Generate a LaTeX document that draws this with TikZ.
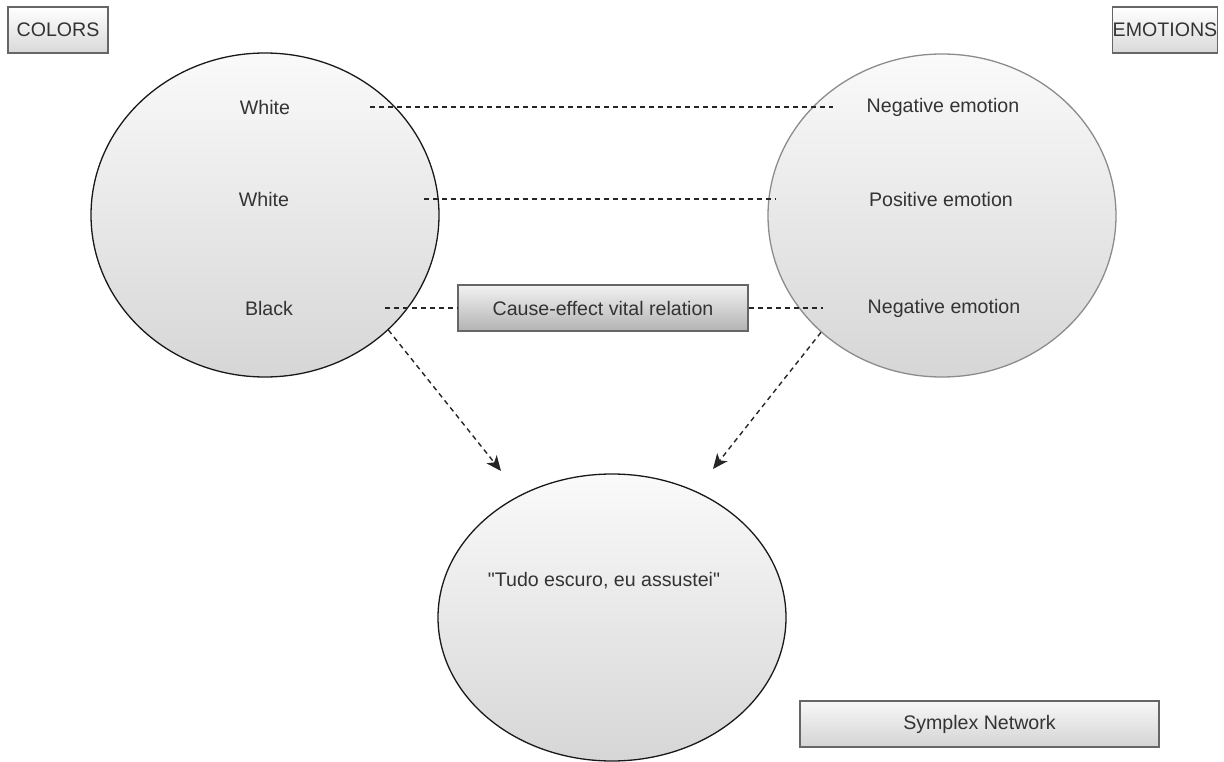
\documentclass[tikz,border=0pt]{standalone}
\usepackage{fontspec}
\setmainfont{Liberation Sans}[Ligatures=TeXOff]
\usetikzlibrary{arrows.meta,shapes.geometric}
\definecolor{txt}{HTML}{333333}
\definecolor{boxline}{HTML}{666666}
\begin{document}
\begin{tikzpicture}[x=1pt,y=-1pt,
  every node/.style={font=\fontsize{19.6}{23}\selectfont, text=txt},
  tagbox/.style={draw=boxline, line width=1.2pt, top color=white, bottom color=black!15,
    minimum width=100pt, minimum height=46pt, inner sep=0pt},
  widebox/.style={draw=boxline, line width=1.2pt, top color=black!3, bottom color=black!17,
    minimum width=359pt, minimum height=46pt, inner sep=0pt},
  relbox/.style={draw=boxline, line width=1.2pt, top color=black!5, bottom color=black!30,
    minimum width=290pt, minimum height=46pt, inner sep=0pt},
  blob/.style={ellipse, line width=1.3pt, top color=black!2, bottom color=black!16, inner sep=0pt},
  lbl/.style={inner sep=0pt, minimum height=20pt},
  link/.style={dashed, dash pattern=on 5pt off 4pt, line width=1.4pt, black!85},
  flow/.style={link, -{Stealth[length=15pt,width=13pt,inset=4pt]}}
]
\useasboundingbox (0,0) rectangle (1224,762);

% category tags
\node[tagbox] (colors) at (58,30) {COLORS};
\node[tagbox] (emotions) at (1165,30) {EMOTIONS};

% the three sets
\node[blob, draw=black!90, minimum width=348pt, minimum height=324pt] (colset) at (265,215) {};
\node[blob, draw=black!45, minimum width=348pt, minimum height=323pt] (emoset) at (942,215.5) {};
\node[blob, draw=black!90, minimum width=348pt, minimum height=287pt] (phrase) at (612,617.5) {};
\node at (604,581) {"Tudo escuro, eu assustei"};

% colour labels
\node[lbl, minimum width=210pt] (w1) at (265,107) {White};
\node[lbl, minimum width=320pt] (w2) at (264,199) {White};
\node[lbl, minimum width=232pt] (b1) at (269,308) {Black};

% emotion labels
\node[lbl, minimum width=220pt] (n1) at (943,107) {Negative emotion};
\node[lbl, minimum width=330pt] (p1) at (941,199) {Positive emotion};
\node[lbl, minimum width=242pt] (n2) at (944,308) {Negative emotion};

% relation and legend
\node[relbox] (rel) at (603,308) {Cause-effect vital relation};
\node[widebox] (legend) at (979.5,724) {Symplex Network};

% links between the sets
\draw[link] (w1.east) -- (n1.west);
\draw[link] (w2.east) -- (p1.west);
\draw[link] (b1.east) -- (rel.west);
\draw[link] (rel.east) -- (n2.west);

% both sets feed the phrase
\coordinate (tipL) at (501,471);
\coordinate (tipR) at (713,469);
\draw[flow] (colset.-43.6) -- (tipL);
\draw[flow] (emoset.-136.8) -- (tipR);
\end{tikzpicture}
\end{document}
